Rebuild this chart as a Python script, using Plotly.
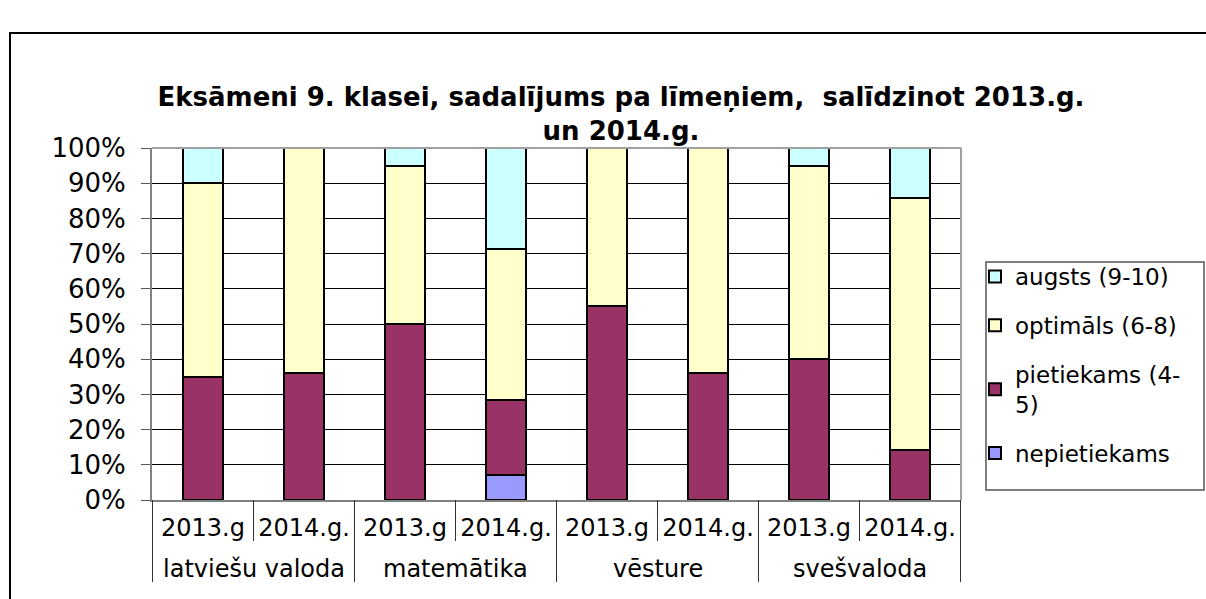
import plotly.graph_objects as go

subjects = ["latviešu valoda", "latviešu valoda", "matemātika", "matemātika",
            "vēsture", "vēsture", "svešvaloda", "svešvaloda"]
years = ["2013.g", "2014.g.", "2013.g", "2014.g.", "2013.g", "2014.g.", "2013.g", "2014.g."]

nepietiekams = [0, 0, 0, 7.1, 0, 0, 0, 0]
pietiekams = [35, 36, 50, 21.4, 55, 36, 40, 14.3]
optimals = [55, 64, 45, 42.9, 45, 64, 55, 71.4]
augsts = [10, 0, 5, 28.6, 0, 0, 5, 14.3]

series = [
    ("nepietiekams", nepietiekams, "#9999FF"),
    ("pietiekams (4-<br>5)", pietiekams, "#993366"),
    ("optimāls (6-8)", optimals, "#FFFFCC"),
    ("augsts (9-10)", augsts, "#CCFFFF"),
]

FONT = "DejaVu Sans, Arial, sans-serif"

# unique category keys (subject + year), labelled with the year
keys = [f"{s} | {y}" for s, y in zip(subjects, years)]

fig = go.Figure()
for i, (name, vals, col) in enumerate(series):
    fig.add_trace(go.Bar(
        x=keys, y=vals, name=name,
        legendgroup=f"g{i}", legendrank=len(series) - i,
        marker=dict(color=col, line=dict(color="black", width=2)),
    ))

W, H = 1206, 599
L, R, T, B = 152, 961, 148, 500
PH = B - T


def py(pix):
    """pixel row -> paper y"""
    return (B - pix) / PH


def px(pix):
    return (pix - L) / (R - L)


fig.update_layout(
    width=W, height=H,
    barmode="stack", bargap=0.6,
    paper_bgcolor="white", plot_bgcolor="white",
    margin=dict(l=L, r=W - R, t=T, b=H - B, autoexpand=False),
    font=dict(family=FONT, size=24, color="black"),
    title=dict(
        text="<b>Eksāmeni 9. klasei, sadalījums pa līmeņiem,  salīdzinot 2013.g.<br>un 2014.g.</b>",
        x=621 / W, xanchor="center", xref="container",
        y=1 - 106 / H, yanchor="top", yref="container",
        font=dict(family=FONT, size=26, color="black"),
    ),
    legend=dict(
        traceorder="grouped", tracegroupgap=16,
        x=px(975), xanchor="left",
        y=py(255), yanchor="top",
        bgcolor="rgba(0,0,0,0)", borderwidth=0,
        font=dict(family=FONT, size=23, color="black"),
        itemwidth=30,
    ),
    showlegend=True,
)

fig.update_yaxes(
    range=[0, 100], dtick=10, ticksuffix="%",
    showgrid=True, gridcolor="black", gridwidth=1,
    showline=True, linecolor="#808080", linewidth=2,
    ticks="outside", ticklen=9, tickcolor="#555555",
    ticklabelstandoff=10,
    tickfont=dict(family=FONT, size=26, color="black"),
    mirror=False, zeroline=False,
)
fig.update_xaxes(
    type="category",
    tickvals=keys, ticktext=years,
    showline=True, linecolor="#808080", linewidth=2,
    ticks="", ticklabelstandoff=5,
    tickfont=dict(family=FONT, size=24, color="black"),
    showgrid=False,
)

# right and top border of the plot area
fig.add_shape(type="line", xref="paper", yref="paper", x0=1, x1=1, y0=0, y1=1,
              line=dict(color="#A0A0A0", width=2))
fig.add_shape(type="line", xref="paper", yref="paper", x0=0, x1=1, y0=1, y1=1,
              line=dict(color="#A0A0A0", width=2))

# category dividers below the axis
n = len(keys)
for b in range(n + 1):
    outer = b == 0 or b == n or subjects[b - 1] != subjects[b]
    fig.add_shape(type="line", xref="x", yref="paper",
                  x0=b - 0.5, x1=b - 0.5, y0=0, y1=py(582 if outer else 541),
                  line=dict(color="#333333", width=1))

# subject (outer category) labels
groups = []
for i, s in enumerate(subjects):
    if not groups or groups[-1][0] != s:
        groups.append([s, i, i])
    else:
        groups[-1][2] = i
for s, i0, i1 in groups:
    fig.add_annotation(text=s, xref="x", yref="paper", x=(i0 + i1) / 2, y=py(569),
                       xanchor="center", yanchor="middle", showarrow=False,
                       font=dict(family=FONT, size=24, color="black"))

# legend frame
fig.add_shape(type="rect", xref="paper", yref="paper",
              x0=px(986), x1=px(1204), y0=py(490), y1=py(262),
              line=dict(color="#555555", width=1.5), fillcolor="rgba(0,0,0,0)")

# outer chart frame
fig.add_shape(type="rect", xref="paper", yref="paper",
              x0=px(10), x1=px(1212), y0=py(610), y1=py(33),
              line=dict(color="black", width=2), fillcolor="rgba(0,0,0,0)", layer="below")

fig.write_html("out.html", config={"displayModeBar": False},
               post_script="document.body.style.margin='0';document.body.style.overflow='hidden';")
